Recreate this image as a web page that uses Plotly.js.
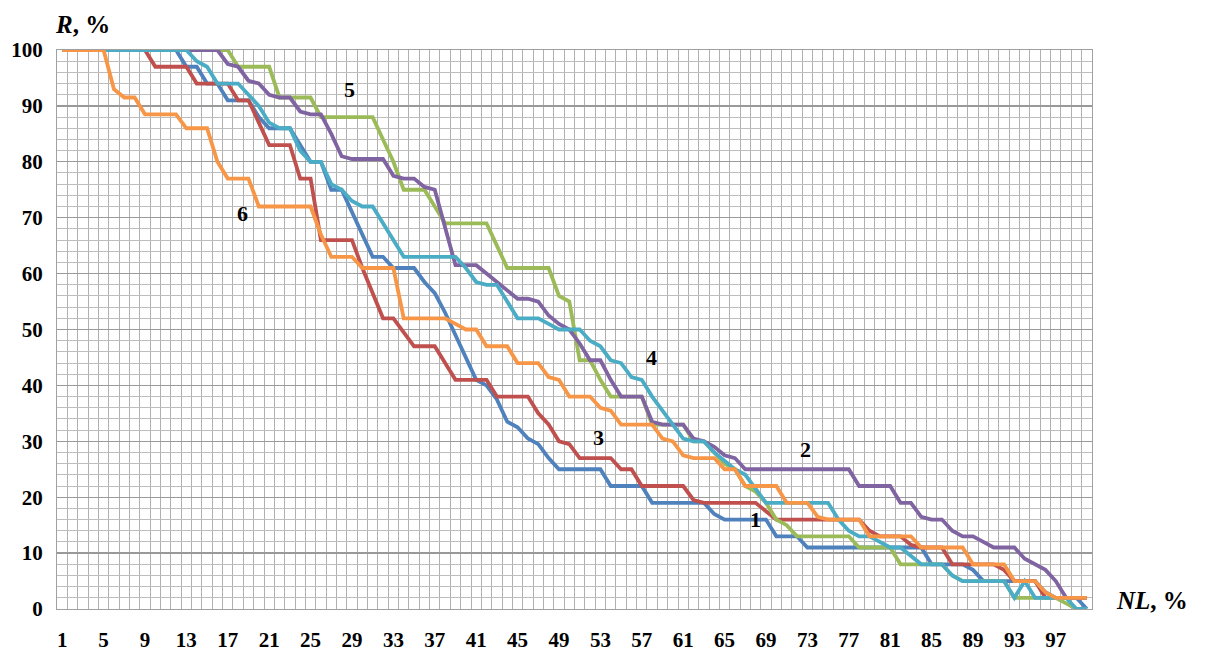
<!DOCTYPE html>
<html>
<head>
<meta charset="utf-8">
<script src="https://cdn.plot.ly/plotly-3.0.1.min.js"></script>
<style>
html,body{margin:0;padding:0;background:#fff;}
#chart{width:1206px;height:651px;}
</style>
</head>
<body>
<div id="chart"></div>
<script>
// NL, % (categories)
const NL = Array.from({length: 100}, (_, i) => i + 1);
const xTickLabels = [1,5,9,13,17,21,25,29,33,37,41,45,49,53,57,61,65,69,73,77,81,85,89,93,97];
const yTickLabels = [0,10,20,30,40,50,60,70,80,90,100];

// R, % for each curve
const curve1 = [
  100,100,100,100,100,100,100,100,100,100,
  100,100,97,97,94,94,91,91,91,88,
  86,86,86,83,80,80,75,75,71,67,
  63,63,61,61,61,58.5,56.5,53,49,45,
  41,40,37.5,33.5,32.5,30.5,29.5,27,25,25,
  25,25,25,22,22,22,22,19,19,19,
  19,19,19,17,16,16,16,16,16,13,
  13,13,11,11,11,11,11,11,11,11,
  11,11,11,11,8,8,8,8,7,5,
  5,5,5,5,5,3,2,2,2,0
];
const curve2 = [
  100,100,100,100,100,100,100,100,100,100,
  100,100,100,100,100,100,97.5,97,94.5,94,
  92,91.5,91.5,89,88.5,88.5,85,81,80.5,80.5,
  80.5,80.5,77.5,77,77,75.5,75,68,61.5,61.5,
  61.5,60,58.5,57,55.5,55.5,55,52.5,51,50,
  47.5,44.5,44.5,41,38,38,38,33.5,33,33,
  33,30.5,30,29,27.5,27,25,25,25,25,
  25,25,25,25,25,25,25,22,22,22,
  22,19,19,16.5,16,16,14,13,13,12,
  11,11,11,9,8,7,5,2,2,2
];
const curve3 = [
  100,100,100,100,100,100,100,100,100,97,
  97,97,97,94,94,94,94,91,91,87,
  83,83,83,77,77,66,66,66,66,61,
  56.5,52,52,49.5,47,47,47,44,41,41,
  41,41,38,38,38,38,35,33,30,29.5,
  27,27,27,27,25,25,22,22,22,22,
  22,19.5,19,19,19,19,19,19,17.5,16,
  16,16,16,16,16,16,16,16,14,13,
  13,13,11.5,11,11,11,8,8,8,8,
  8,7,5,5,5,2,2,2,2,2
];
const curve4 = [
  100,100,100,100,100,100,100,100,100,100,
  100,100,100,98,97,94,94,94,92,90,
  87,86,86,82,80,80,76,75,73,72,
  72,69,66,63,63,63,63,63,63,61,
  58.5,58,58,55,52,52,52,51,50,50,
  50,48,47,44.5,44,41.5,41,38,35.5,33,
  30.5,30,30,28,26.5,25,24,21.5,19,19,
  19,19,19,19,19,16,14,13,13,12,
  11,11,9.5,8,8,8,6,5,5,5,
  5,5,2,5,2,2,2,2,0,0
];
const curve5 = [
  100,100,100,100,100,100,100,100,100,100,
  100,100,100,100,100,100,100,97,97,97,
  97,91.5,91.5,91.5,91.5,88,88,88,88,88,
  88,84,80,75,75,75,72,69,69,69,
  69,69,65,61,61,61,61,61,56,55,
  44.5,44.5,41,38,38,38,38,33,33,33,
  33,30,30,28,26,25,22,21,19,16,
  15,13,13,13,13,13,13,11,11,11,
  11,8,8,8,8,8,6,5,5,5,
  5,5,2,2,2,2,2,1,0,0
];
const curve6 = [
  100,100,100,100,100,93,91.5,91.5,88.5,88.5,
  88.5,88.5,86,86,86,80,77,77,77,72,
  72,72,72,72,72,67,63,63,63,61,
  61,61,61,52,52,52,52,52,51,50,
  50,47,47,47,44,44,44,41.5,41,38,
  38,38,36,35.5,33,33,33,33,30.5,30,
  27.5,27,27,27,25,25,22,22,22,22,
  19,19,19,16.5,16,16,16,16,13,13,
  13,13,13,11,11,11,11,11,8,8,
  8,8,5,5,5,3,2,2,2,2
];

const curveLabels = ['1','2','3','4','5','6'];
const labelX = [68, 72.8, 52.8, 57.9, 28.8, 18.4];
const labelY = [16, 28.6, 30.6, 45, 93, 70.7];

const serif = '"Liberation Serif", "Times New Roman", serif';
const mk = (y, color, name) => ({
  x: NL, y: y, type: 'scatter', mode: 'lines', name: name,
  line: {color: color, width: 3.8}, cliponaxis: false, hoverinfo: 'skip'
});

const traces = [
  mk(curve1, '#4F81BD', '1'),
  mk(curve3, '#C0504D', '3'),
  mk(curve5, '#9BBB59', '5'),
  mk(curve2, '#8064A2', '2'),
  mk(curve4, '#4BACC6', '4'),
  mk(curve6, '#F79646', '6')
];

const annotations = curveLabels.map((t, i) => ({
  x: labelX[i], y: labelY[i], xref: 'x', yref: 'y', text: '<b>' + t + '</b>',
  showarrow: false, font: {family: serif, size: 22, color: '#000'}
}));
annotations.push({
  x: 0, y: 1, xref: 'paper', yref: 'paper', xanchor: 'left', yanchor: 'bottom',
  yshift: 10, xshift: -4,
  text: '<b><i>R</i>, %</b>', showarrow: false, font: {family: serif, size: 25, color: '#000'}
});
annotations.push({
  x: 1, y: 0, xref: 'paper', yref: 'paper', xanchor: 'left', yanchor: 'middle',
  xshift: 22, yshift: 9,
  text: '<b><i>NL</i>, %</b>', showarrow: false, font: {family: serif, size: 25, color: '#000'}
});

// minor grid positions (every 2 %, skipping the major 10 % lines)
const yMinor = [];
for (let v = 2; v < 100; v += 2) if (v % 10 !== 0) yMinor.push(v);

const layout = {
  width: 1206, height: 651,
  margin: {l: 57, r: 114, t: 50, b: 42},
  paper_bgcolor: '#fff', plot_bgcolor: '#fff',
  showlegend: false,
  xaxis: {
    range: [0.5, 100.5], tickmode: 'array', tickvals: xTickLabels,
    ticktext: xTickLabels.map(v => String(v)),
    showgrid: false, zeroline: false, ticks: '',
    showline: true, mirror: true, linecolor: '#a0a0a0', linewidth: 1,
    tickfont: {family: serif, size: 21, color: '#000', weight: 'bold'},
    ticklabelstandoff: 12,
    minor: {tickmode: 'linear', tick0: 0.5, dtick: 1, showgrid: true, gridcolor: '#b0b0b0', gridwidth: 1, ticks: ''}
  },
  yaxis: {
    range: [0, 100], tickmode: 'array', tickvals: yTickLabels,
    ticktext: yTickLabels.map(v => String(v)),
    showgrid: true, gridcolor: '#999999', gridwidth: 1.3, zeroline: false, ticks: '',
    showline: true, mirror: true, linecolor: '#a0a0a0', linewidth: 1,
    tickfont: {family: serif, size: 21, color: '#000', weight: 'bold'},
    ticklabelstandoff: 9,
    minor: {tickmode: 'array', tickvals: yMinor, showgrid: true, gridcolor: '#bdbdbd', gridwidth: 1, ticks: ''}
  },
  annotations: annotations
};

Plotly.newPlot('chart', traces, layout, {displayModeBar: false, staticPlot: true});
</script>
</body>
</html>
